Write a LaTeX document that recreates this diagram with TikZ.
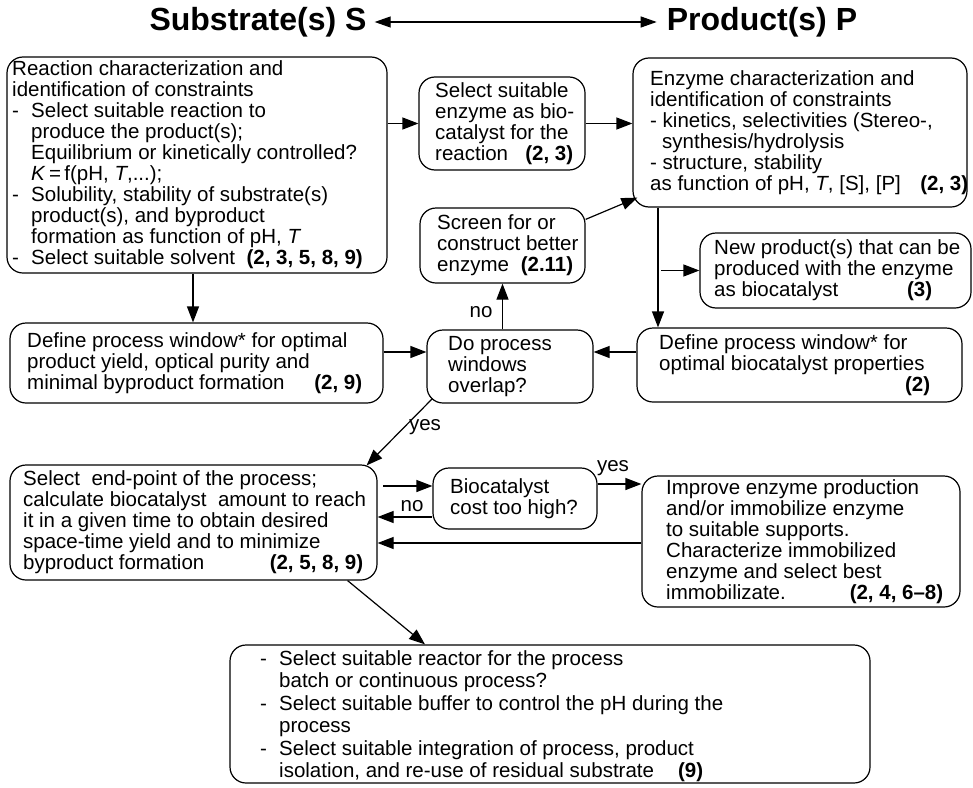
\documentclass[tikz,border=0pt]{standalone}
\usepackage{fontspec}
\setmainfont{Liberation Sans}
\usetikzlibrary{arrows.meta}
\newcommand{\hi}{\hspace*{19pt}}
\newcommand{\hj}{\hspace*{12pt}}
\newcommand{\dl}{\makebox[19pt][l]{-}}
\begin{document}
\begin{tikzpicture}[x=1pt,y=-1pt,
  font=\fontsize{20.5}{21}\selectfont,
  box/.style={draw, rounded corners=16pt, line width=1.2pt, inner sep=0pt},
  txt/.style={align=left, inner sep=0pt, anchor=west},
  arr/.style={line width=1.2pt, -{Triangle[length=16pt,width=12pt]}},
  lab/.style={inner sep=0pt},
  ttl/.style={font=\fontsize{32}{36}\selectfont\bfseries, inner sep=0pt}]
\useasboundingbox (0,0) rectangle (973,787);

% title
\node[ttl] (St) at (258,22) {Substrate(s) S};
\node[ttl] (Pt) at (762,22) {Product(s) P};
\draw[line width=1.2pt, {Triangle[length=16pt,width=11pt]}-{Triangle[length=16pt,width=11pt]}]
  ([xshift=8pt]St.east) -- ([xshift=-10pt]Pt.west);

% boxes
\node[box, minimum width=380pt, minimum height=216pt] (A) at (197,165) {};
\node[box, minimum width=166pt, minimum height=93pt] (B) at (502,123.5) {};
\node[box, minimum width=334pt, minimum height=149pt] (C) at (800,132.5) {};
\node[box, minimum width=165pt, minimum height=75pt] (D) at (502.5,245.5) {};
\node[box, minimum width=373pt, minimum height=80pt] (E) at (196.5,363) {};
\node[box, minimum width=166pt, minimum height=73pt] (F) at (510,366.5) {};
\node[box, minimum width=325pt, minimum height=74pt] (G) at (799.5,365) {};
\node[box, minimum width=271pt, minimum height=75pt] (H) at (835.5,270.5) {};
\node[box, minimum width=367pt, minimum height=115pt] (I) at (193.5,522.5) {};
\node[box, minimum width=164pt, minimum height=61pt] (J) at (515,498.5) {};
\node[box, minimum width=318pt, minimum height=131pt] (K) at (801,541.5) {};
\node[box, minimum width=640pt, minimum height=138pt] (L) at (550,714) {};

% texts
\node[txt] (At) at (12,165) {Reaction characterization and\\
identification of constraints\\
\dl Select suitable reaction to\\
\hi produce the product(s);\\
\hi Equilibrium or kinetically controlled?\\
\hi \textit{K}\,=\,f(pH,\ \textit{T},...);\\
\dl Solubility, stability of substrate(s)\\
\hi product(s), and byproduct\\
\hi formation as function of pH,\ \textit{T}\\
\dl Select suitable solvent\ \ \textbf{(2, 3, 5, 8, 9)}};

\node[txt] (Bt) at (435,123.5) {Select suitable\\
enzyme as bio-\\
catalyst for the\\
\makebox[138pt][l]{reaction\hfill\textbf{(2, 3)}}};

\node[txt] (Ct) at (650,132.5) {Enzyme characterization and\\
identification of constraints\\
- kinetics, selectivities (Stereo-,\\
\hj synthesis/hydrolysis\\
- structure, stability\\
\makebox[318pt][l]{as function of pH, \textit{T}, [S], [P]\hfill\textbf{(2, 3)}}};

\node[txt] (Dt) at (437,245.5) {Screen for or\\
construct better\\
\makebox[136pt][l]{enzyme\hfill\textbf{(2.11)}}};

\node[txt] (Et) at (27,363) {Define process window* for optimal\\
product yield, optical purity and\\
\makebox[335pt][l]{minimal byproduct formation\hfill\textbf{(2, 9)}}};

\node[txt] (Ft) at (448,366.5) {Do process\\ windows\\ overlap?};

\node[txt] (Gt) at (659,365) {Define process window* for\\
optimal biocatalyst properties\\
\makebox[271pt][l]{\hfill\textbf{(2)}}};

\node[txt] (Ht) at (714,270.5) {New product(s) that can be\\
produced with the enzyme\\
\makebox[218pt][l]{as biocatalyst\hfill\textbf{(3)}}};

\node[txt] (It) at (23,522.5) {Select\ \ end-point of the process;\\
calculate biocatalyst\ \ amount to reach\\
it in a given time to obtain desired\\
space-time yield and to minimize\\
\makebox[340pt][l]{byproduct formation\hfill\textbf{(2, 5, 8, 9)}}};

\node[txt] (Jt) at (450,498.5) {Biocatalyst\\ cost too high?};

\node[txt] (Kt) at (666,541.5) {Improve enzyme production\\
and/or immobilize enzyme\\
to suitable supports.\\
Characterize immobilized\\
enzyme and select best\\
\makebox[277pt][l]{immobilizate.\hfill\textbf{(2, 4, 6--8)}}};

\node[txt, font=\fontsize{20.5}{22.5}\selectfont] (Lt) at (260,716) {\dl Select suitable reactor for the process\\
\hi batch or continuous process?\\
\dl Select suitable buffer to control the pH during the\\
\hi process\\
\dl Select suitable integration of process, product\\
\hi\makebox[424pt][l]{isolation, and re-use of residual substrate\hfill\textbf{(9)}}};

% helper coordinates
\coordinate (xAE) at (193,0);
\coordinate (yW) at (0,352);
\coordinate (xV) at (658,0);
\coordinate (xVb) at (661,0);
\coordinate (x383) at (383,0);
\coordinate (y1) at (0,486);
\coordinate (y2) at (0,517);
\coordinate (y3) at (0,484);
\coordinate (y4) at (0,543);

% connectors
\draw[arr] (A.east |- B.west) -- (B.west);
\draw[arr] (B.east) -- (B.east -| C.west);
\draw[arr] (A.south -| xAE) -- (E.north -| xAE);
\draw[arr] ([yshift=-12pt]D.north east) -- ([xshift=5pt,yshift=10pt]C.south west);
\draw[arr] (D.south |- F.north) -- (D.south);
\node[lab] (no1) at (481,312) {no};
\draw[arr] (E.east |- yW) -- (F.west |- yW);
\draw[arr] (G.west |- yW) -- (F.east |- yW);
\draw[arr] (C.south -| xV) -- (G.north -| xV);
\draw[arr] (H.west -| xVb) -- (H.west);
\draw[arr] ([xshift=6pt,yshift=5pt]F.south west) -- ([xshift=-11pt,yshift=-1pt]I.north east);
\node[lab] (yes1) at (425,427) {yes};
\draw[arr] (x383 |- y1) -- (J.west |- y1);
\draw[arr] (J.west |- y2) -- (I.east |- y2);
\node[lab] (no2) at (412,506) {no};
\draw[arr] (J.east |- y3) -- (K.west |- y3);
\node[lab] (yes2) at (613,468) {yes};
\draw[arr] (K.west |- y4) -- (I.east |- y4);
\draw[arr] ([xshift=-30pt]I.south east) -- ([xshift=-125pt]L.north);
\end{tikzpicture}
\end{document}
